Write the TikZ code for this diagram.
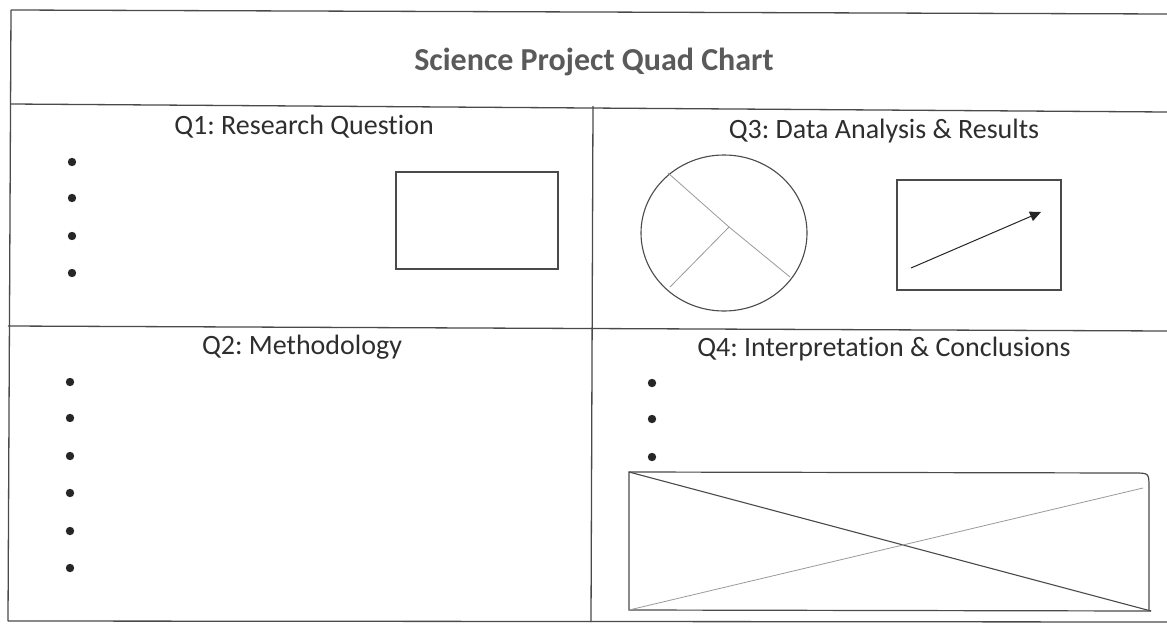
\documentclass[tikz,border=0pt]{standalone}
\usepackage{fontspec}
\setmainfont{Carlito}[Ligatures=NoCommon]
\usepackage{xcolor}
\usetikzlibrary{calc}
\usetikzlibrary{arrows.meta,positioning}
\definecolor{framegray}{HTML}{4A4A4A}
\definecolor{titlegray}{HTML}{5A5A5A}
\definecolor{textgray}{HTML}{2E2E2E}
\definecolor{lightgray}{HTML}{9A9A9A}
\frenchspacing

\begin{document}
\begin{tikzpicture}[x=1pt,y=-1pt,
		frameline/.style={framegray,line width=1.3pt},
		qtitle/.style={text=textgray,font=\fontsize{28}{32}\selectfont,inner sep=0pt},
		bulletdot/.style={fill=black!85}]
		\useasboundingbox (0,0) rectangle (1167,624);
		\fill[white] (0,0) rectangle (1167,624);
		% outer frame and grid
		\draw[frameline] (11,10) -- (1167,14);
		\draw[frameline] (11,104) -- (1167,112);
		\draw[frameline] (8,326) -- (1167,331);
		\draw[frameline] (8,621) -- (1167,622);
		\draw[frameline] (11,10) -- (8,621);
		\draw[frameline] (593,106) -- (591,622);
		% title
		\node[text=titlegray,font=\fontsize{32}{36}\selectfont\bfseries,inner sep=0pt] (title) at (594,62) {Science Project Quad Chart};
		% quadrant headings
		\node[qtitle] (q1) at (304,127) {Q1: Research Question};
		\node[qtitle] (q3) at (884,131) {Q3: Data Analysis \& Results};
		\node[qtitle] (q2) at (302,347) {Q2: Methodology};
		\node[qtitle] (q4) at (884,349) {Q4: Interpretation \& Conclusions};
		% Q1
		\foreach \y in {162,198,236,273}
			\fill[bulletdot] (72,\y) circle (4.2pt);
		\draw[framegray,line width=1.1pt] (396,172) rectangle (558,269);
		% Q3: pie and chart
		\draw[framegray,line width=1.1pt] (724,233) ellipse [x radius=83pt,y radius=78pt];
		\coordinate (pc) at (729,227);
		\draw[lightgray,line width=0.8pt] (pc) -- (668,173);
		\draw[lightgray,line width=0.8pt] (pc) -- (790,277);
		\draw[lightgray,line width=0.8pt] (pc) -- (670,287);
		\draw[framegray,line width=1.1pt] (897,180) rectangle (1061,290);
		\coordinate (trendA) at (911,268);
		\coordinate (trendB) at (1041,212);
		\draw[-{Triangle[length=11pt,width=10pt]},black!85,line width=1pt] (trendA) -- (trendB);
		% Q2
		\foreach \y in {382,418,456,493,531,568}
			\fill[bulletdot] (70,\y) circle (4.2pt);
		% Q4
		\foreach \y in {383,419,457}
			\fill[bulletdot] (652,\y) circle (4.2pt);
		\coordinate (imgTL) at (629,472);
		\coordinate (imgBL) at (629,610);
		\coordinate (imgBR) at (1151,611);
		\draw[framegray,line width=1.2pt] (imgBR) -- (imgBL) -- (imgTL) -- (1134,473) .. controls (1149,473) .. (1149,488) -- (1149,611);
		\draw[framegray,line width=1.1pt] (imgTL) -- (imgBR);
		\draw[lightgray,line width=0.8pt] (imgBL) -- (1143,488);
	\end{tikzpicture}
\end{document}
